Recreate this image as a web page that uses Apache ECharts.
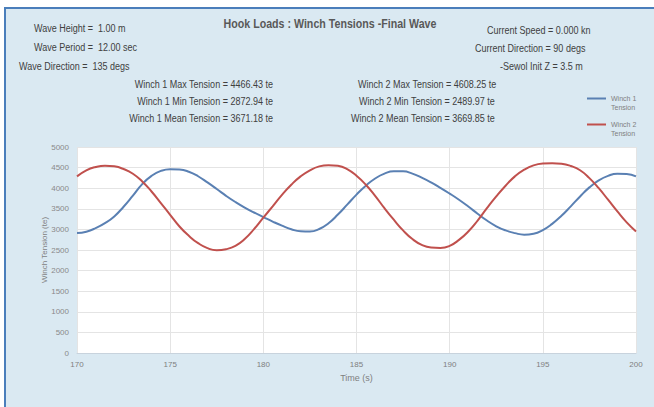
<!DOCTYPE html>
<html>
<head>
<meta charset="utf-8">
<script src="https://cdn.jsdelivr.net/npm/echarts@6/dist/echarts.min.js"></script>
<style>
  html, body { margin:0; padding:0; background:#fff; width:654px; height:407px; overflow:hidden; }
  #panel { position:absolute; left:4px; top:7px; right:0; bottom:0; background:#dae9f2;
           border-left:2px solid #4a7ebb; border-top:2px solid #4a7ebb; }
  #chart { position:absolute; left:0; top:0; width:654px; height:407px; }
</style>
</head>
<body>
<div id="panel"></div>
<div id="chart"></div>
<script>
// Time axis (s)
const time = [170,170.5,171,171.5,172,172.5,173,173.5,174,174.5,175,175.5,176,176.5,177,177.5,178,178.5,179,179.5,
  180,180.5,181,181.5,182,182.5,183,183.5,184,184.5,185,185.5,186,186.5,187,187.5,188,188.5,189,189.5,
  190,190.5,191,191.5,192,192.5,193,193.5,194,194.5,195,195.5,196,196.5,197,197.5,198,198.5,199,199.5,200];

// Winch 1 tension (te)
const winch1 = [2910,2945,3030,3150,3315,3550,3820,4100,4300,4420,4462,4455,4400,4290,4140,3980,3815,3665,3530,3410,
  3300,3190,3090,3005,2955,2950,3010,3150,3360,3600,3845,4060,4235,4355,4412,4410,4355,4255,4140,4010,
  3870,3720,3555,3380,3215,3075,2975,2910,2873,2895,2985,3135,3330,3560,3800,4020,4190,4300,4350,4345,4287];

// Winch 2 tension (te)
const winch2 = [4287,4435,4515,4546,4530,4465,4350,4165,3920,3640,3355,3070,2845,2665,2545,2495,2520,2600,2765,3005,
  3285,3560,3840,4085,4287,4435,4530,4560,4546,4465,4300,4085,3815,3515,3235,2975,2765,2625,2560,2550,
  2600,2745,2950,3215,3515,3800,4060,4287,4450,4555,4600,4608,4595,4540,4435,4245,4000,3720,3435,3170,2950];

const seriesNames = ['Winch 1 Tension', 'Winch 2 Tension'];
const titleText = 'Hook Loads : Winch Tensions -Final Wave';
const infoLeft = ['Wave Height =  1.00 m', 'Wave Period =  12.00 sec', 'Wave Direction =  135 degs'];
const infoRight = ['Current Speed = 0.000 kn', 'Current Direction = 90 degs', '-Sewol Init Z = 3.5 m'];
const stats1 = ['Winch 1 Max Tension = 4466.43 te', 'Winch 1 Min Tension = 2872.94 te', 'Winch 1 Mean Tension = 3671.18 te'];
const stats2 = ['Winch 2 Max Tension = 4608.25 te', 'Winch 2 Min Tension = 2489.97 te', 'Winch 2 Mean Tension = 3669.85 te'];

const FONT = "'Liberation Sans', Arial, sans-serif";
const TXT = '#404040';
const NARROW = 0.82;

function txt(s, x, y, align) {
  return { type:'text', x:x, y:y, z:10, scaleX:NARROW,
    style:{ text:s, fill:TXT, font:'11px ' + FONT, textAlign:align||'left', textVerticalAlign:'middle' } };
}

const graphics = [
  { type:'text', x:330, y:24, z:10, scaleX:NARROW, style:{ text:titleText, fill:'#595959',
      font:'bold 13px ' + FONT, textAlign:'center', textVerticalAlign:'middle' } },
  txt(infoLeft[0], 34, 28), txt(infoLeft[1], 34, 47), txt(infoLeft[2], 19, 66),
  txt(infoRight[0], 487, 30), txt(infoRight[1], 475, 48), txt(infoRight[2], 500, 66),
  txt(stats1[0], 273, 84, 'right'), txt(stats1[1], 273, 101, 'right'), txt(stats1[2], 273, 118, 'right'),
  txt(stats2[0], 358, 84), txt(stats2[1], 359, 101), txt(stats2[2], 351, 118)
];

const chart = echarts.init(document.getElementById('chart'), null, { renderer:'svg' });
chart.setOption({
  backgroundColor:'transparent',
  animation:false,
  textStyle:{ fontFamily:FONT },
  graphic: graphics,
  legend: {
    orient:'vertical', left:587, top:85, itemGap:-1, padding:0,
    icon:'rect', itemWidth:19, itemHeight:2,
    data: seriesNames,
    formatter: n => '\n' + n.replace(' Tension', '\nTension'),
    textStyle:{ color:'#808080', fontSize:7, lineHeight:9, fontFamily:FONT }
  },
  grid: { left:77, right:18, top:147, bottom:54, show:true, backgroundColor:'#ffffff', borderWidth:0 },
  xAxis: {
    type:'value', min:170, max:200, interval:5,
    name:'Time (s)', nameLocation:'middle', nameGap:20, nameMoveOverlap:false,
    nameTextStyle:{ color:'#7f7f7f', fontSize:9 },
    axisLine:{ show:true, lineStyle:{ color:'#c8d3dd', width:1 } },
    axisTick:{ show:false },
    axisLabel:{ color:'#7f7f7f', fontSize:8, margin:7 },
    splitLine:{ show:true, lineStyle:{ color:'#e4e4e4', width:1 } }
  },
  yAxis: {
    type:'value', min:0, max:5000, interval:500,
    name:'Winch Tension (te)', nameLocation:'middle', nameGap:29, nameMoveOverlap:false,
    nameTextStyle:{ color:'#7f7f7f', fontSize:8 },
    axisLine:{ show:false }, axisTick:{ show:false },
    axisLabel:{ color:'#8a8a8a', fontSize:8, margin:8, formatter: v => String(v) },
    splitLine:{ show:true, lineStyle:{ color:'#e4e4e4', width:1 } }
  },
  series: [
    { name:seriesNames[0], type:'line', smooth:true, showSymbol:false,
      data: time.map((t,i)=>[t, winch1[i]]),
      lineStyle:{ color:'#5a80b3', width:2 }, itemStyle:{ color:'#5a80b3' } },
    { name:seriesNames[1], type:'line', smooth:true, showSymbol:false,
      data: time.map((t,i)=>[t, winch2[i]]),
      lineStyle:{ color:'#c0504d', width:2 }, itemStyle:{ color:'#c0504d' } }
  ]
});
</script>
</body>
</html>
